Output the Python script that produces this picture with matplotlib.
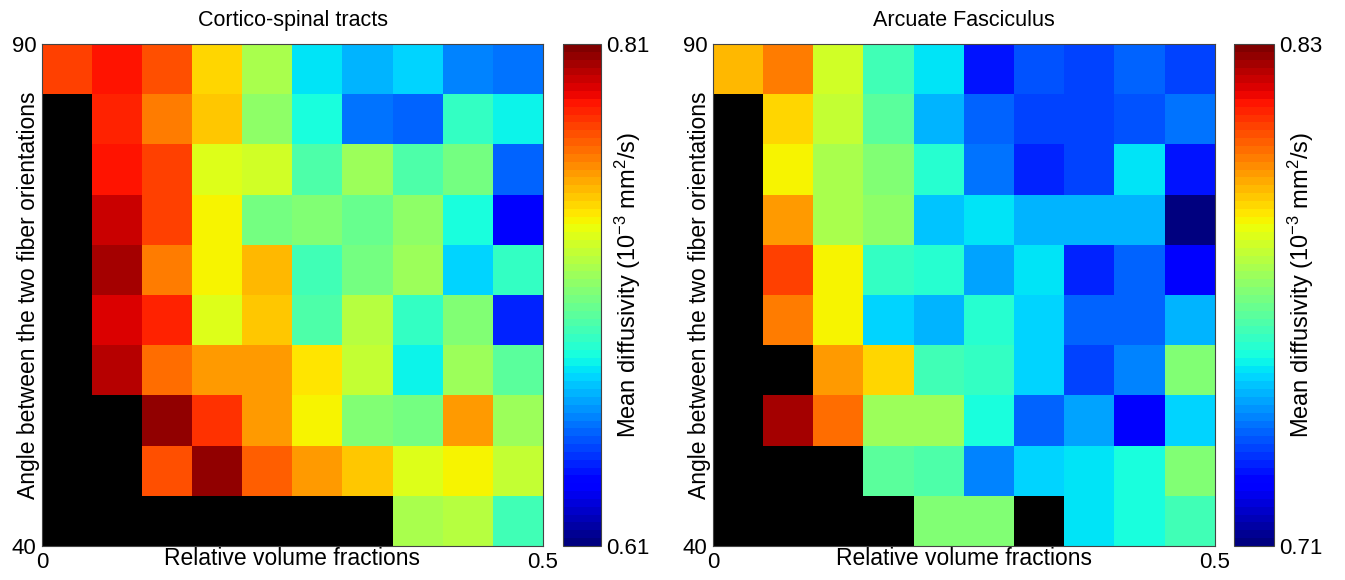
import numpy as np
import matplotlib
matplotlib.use("Agg")
import matplotlib.pyplot as plt

plt.rcParams['font.family'] = ['Liberation Sans', 'DejaVu Sans']
plt.rcParams['mathtext.default'] = 'regular'

nan = np.nan
x_ticks = [0, 0.5]
x_tick_labels = ["0", "0.5"]
y_ticks = [40, 90]
y_tick_labels = ["40", "90"]

titles = ["Cortico-spinal tracts", "Arcuate Fasciculus"]
x_label = "Relative volume fractions"
y_label = "Angle between the two fiber orientations"
cbar_label = "Mean diffusivity (10$^{-3}$ mm$^{2}$/s)"

# rows from 90 deg (top) down to 40 deg (bottom); columns from 0 to 0.5
cst_md = [
    [0.776, 0.788, 0.775, 0.746, 0.720, 0.679, 0.672, 0.676, 0.660, 0.657],
    [nan,   0.785, 0.765, 0.748, 0.715, 0.685, 0.658, 0.656, 0.692, 0.682],
    [nan,   0.788, 0.778, 0.734, 0.730, 0.700, 0.719, 0.700, 0.708, 0.654],
    [nan,   0.797, 0.778, 0.740, 0.708, 0.711, 0.706, 0.715, 0.685, 0.634],
    [nan,   0.801, 0.765, 0.740, 0.752, 0.696, 0.708, 0.719, 0.676, 0.694],
    [nan,   0.792, 0.785, 0.732, 0.749, 0.700, 0.724, 0.694, 0.711, 0.644],
    [nan,   0.798, 0.768, 0.757, 0.758, 0.743, 0.728, 0.682, 0.719, 0.702],
    [nan,   nan,   0.804, 0.781, 0.758, 0.740, 0.713, 0.708, 0.757, 0.719],
    [nan,   nan,   0.775, 0.804, 0.772, 0.757, 0.750, 0.734, 0.740, 0.726],
    [nan,   nan,   nan,   nan,   nan,   nan,   nan,   0.720, 0.724, 0.696],
]
cst_range = [0.61, 0.81]

af_md = [
    [0.796, 0.803, 0.782, 0.762, 0.753, 0.727, 0.736, 0.733, 0.738, 0.733],
    [nan,   0.792, 0.781, 0.766, 0.746, 0.738, 0.734, 0.733, 0.735, 0.739],
    [nan,   0.788, 0.777, 0.771, 0.758, 0.739, 0.729, 0.733, 0.753, 0.727],
    [nan,   0.799, 0.776, 0.772, 0.748, 0.753, 0.746, 0.746, 0.747, 0.711],
    [nan,   0.811, 0.788, 0.759, 0.757, 0.744, 0.752, 0.729, 0.738, 0.724],
    [nan,   0.803, 0.788, 0.750, 0.747, 0.758, 0.751, 0.738, 0.738, 0.747],
    [nan,   nan,   0.799, 0.792, 0.762, 0.760, 0.750, 0.733, 0.740, 0.771],
    [nan,   0.826, 0.805, 0.775, 0.774, 0.756, 0.738, 0.744, 0.724, 0.750],
    [nan,   nan,   nan,   0.766, 0.763, 0.740, 0.751, 0.753, 0.756, 0.770],
    [nan,   nan,   nan,   nan,   0.771, 0.771, nan,   0.753, 0.755, 0.762],
]
af_range = [0.71, 0.83]

W, H = 1345, 580
fig = plt.figure(figsize=(W / 100, H / 100), dpi=100)

cmap = plt.get_cmap('jet', 64).copy()
cmap.set_bad('black')


def px(x0, y0, x1, y1):
    return [x0 / W, 1 - y1 / H, (x1 - x0) / W, (y1 - y0) / H]


panels = [
    (cst_md, cst_range, titles[0], px(42, 44, 543, 546), px(563, 44, 601, 546)),
    (af_md, af_range, titles[1], px(713, 44, 1215, 546), px(1234, 44, 1274, 546)),
]

for data, rng, title, pos, cpos in panels:
    ax = fig.add_axes(pos)
    arr = np.ma.masked_invalid(np.array(data, dtype=float))
    im = ax.imshow(arr, cmap=cmap, vmin=rng[0], vmax=rng[1],
                   extent=[x_ticks[0], x_ticks[1], y_ticks[0], y_ticks[1]],
                   aspect='auto', interpolation='nearest', origin='upper')
    ax.set_xticks(x_ticks)
    ax.set_xticklabels(x_tick_labels)
    ax.set_yticks(y_ticks)
    ax.set_yticklabels(y_tick_labels)
    ax.tick_params(length=0, labelsize=16, pad=4)
    for s in ax.spines.values():
        s.set_linewidth(0.8)
        s.set_color('#444444')
    ax.set_title(title, fontsize=15.5, pad=13)
    ax.set_xlabel(x_label, fontsize=16.5, va='center')
    ax.xaxis.set_label_coords(0.5, -0.025)
    ax.set_ylabel(y_label, fontsize=16.5, va='center')
    ax.yaxis.set_label_coords(-0.027, 0.5)

    cax = fig.add_axes(cpos)
    cb = fig.colorbar(im, cax=cax, ticks=rng)
    cb.ax.set_yticklabels([f"{v:.2f}" for v in rng])
    cb.ax.tick_params(length=0, labelsize=16, pad=4)
    cb.outline.set_linewidth(0.8)
    cb.outline.set_edgecolor('#444444')
    cb.set_label(cbar_label, fontsize=17)
    cb.ax.yaxis.set_label_coords(1.0 + 27 / (cpos[2] * W), 0.52)
    cb.ax.yaxis.label.set_va('center')

fig.savefig("out.png", dpi=100)
